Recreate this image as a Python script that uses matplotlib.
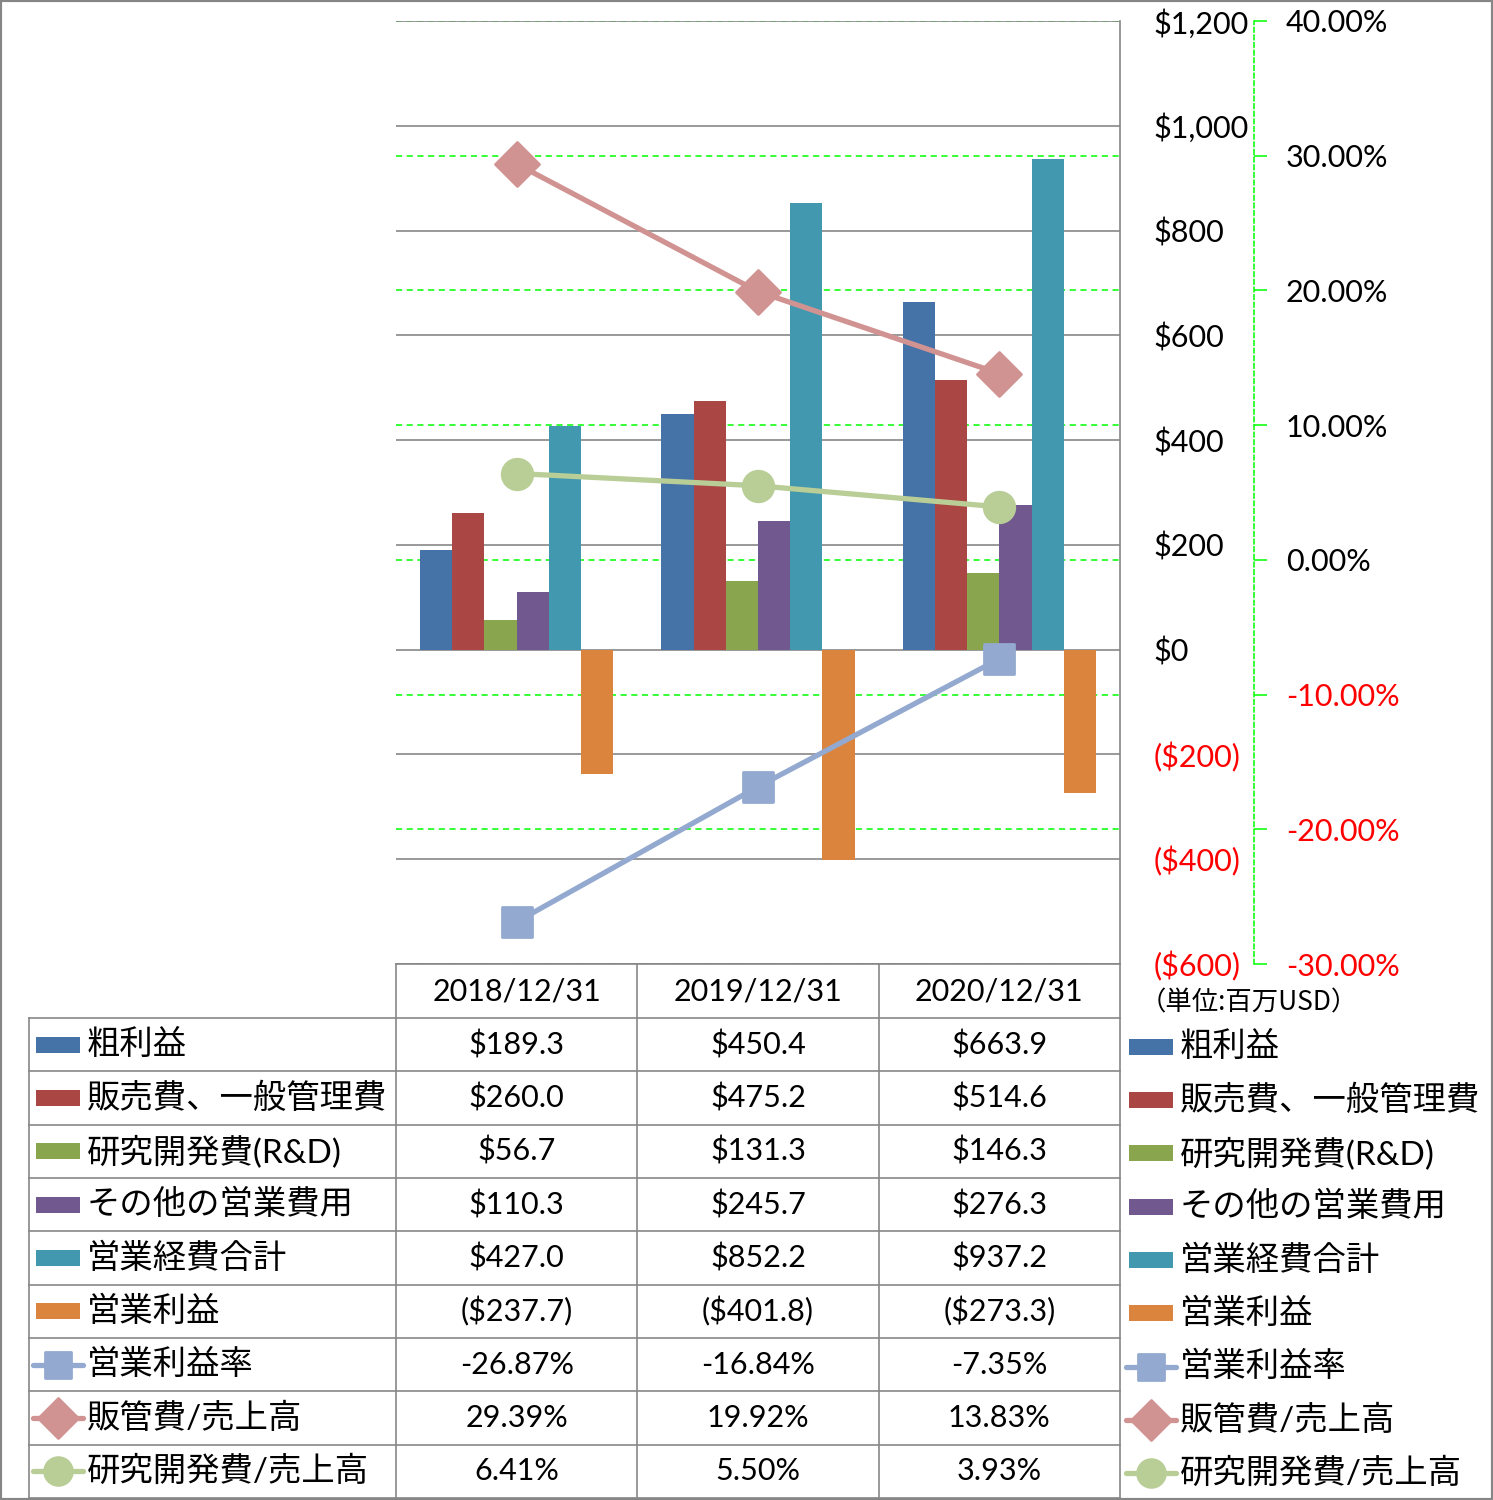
import matplotlib.pyplot as plt
import matplotlib.transforms as mtransforms
from matplotlib.lines import Line2D
from matplotlib.patches import Rectangle
from matplotlib.markers import MarkerStyle
import numpy as np

plt.rcParams['font.family'] = ['Lato', 'Noto Sans CJK JP']

# data (百万USD / %)
categories = ['2018/12/31', '2019/12/31', '2020/12/31']
gross_profit = [189.3, 450.4, 663.9]
sga = [260.0, 475.2, 514.6]
rnd = [56.7, 131.3, 146.3]
other_opex = [110.3, 245.7, 276.3]
total_opex = [427.0, 852.2, 937.2]
op_income = [-237.7, -401.8, -273.3]
op_margin = [-26.87, -16.84, -7.35]
sga_ratio = [29.39, 19.92, 13.83]
rnd_ratio = [6.41, 5.50, 3.93]

bar_names = ['粗利益', '販売費、一般管理費', '研究開発費(R&D)', 'その他の営業費用', '営業経費合計', '営業利益']
bar_colors = ['#4572A7', '#AA4643', '#89A54E', '#71588F', '#4198AF', '#DB843D']
line_names = ['営業利益率', '販管費/売上高', '研究開発費/売上高']
line_colors = ['#93A9CF', '#D19392', '#B9CD96']
line_markers = ['s', 'D', 'o']

usd_ticks = list(range(-600, 1201, 200))
pct_ticks = list(range(-30, 41, 10))

W, H = 1493, 1500
fig = plt.figure(figsize=(W / 100, H / 100), dpi=100)


def fx(px):
    return px / W


def fy(py):
    return 1 - py / H


def usd(v, dec=0):
    s = f'${abs(v):,.{dec}f}'
    return f'({s})' if v < 0 else s


grid_col = '#878787'
green = '#00FF00'

ax = fig.add_axes([fx(396), fy(964), fx(1120) - fx(396), fy(21) - fy(964)])
axg = ax.twinx()
ax2 = ax.twinx()
axg.set_zorder(0)
ax.set_zorder(1)
ax2.set_zorder(2)
ax.patch.set_visible(False)
ax2.patch.set_visible(False)

x = np.arange(len(categories))
w = 1 / 7.5
bar_data = [gross_profit, sga, rnd, other_opex, total_opex, op_income]
for i, (vals, c) in enumerate(zip(bar_data, bar_colors)):
    ax.bar(x + (i - 2.5) * w, vals, w, color=c, linewidth=0, zorder=3)

ax.set_xlim(-0.5, 2.5)
ax.set_ylim(-600, 1200)
ax.set_xticks([])
ax.set_axisbelow(True)
ax.yaxis.grid(True, color=grid_col, lw=1.2)
for s in ['left', 'top', 'bottom']:
    ax.spines[s].set_visible(False)
ax.spines['right'].set_color(grid_col)
ax.spines['right'].set_linewidth(1.2)
ax.yaxis.tick_right()
ax.set_yticks(usd_ticks, [usd(v) for v in usd_ticks])
ax.tick_params(axis='y', length=0, pad=24, labelsize=22)
for lbl, v in zip(ax.get_yticklabels(), usd_ticks):
    lbl.set_color('#FF0000' if v < 0 else 'black')

# secondary grid behind bars
axg.set_ylim(-30, 40)
axg.set_yticks(pct_ticks)
axg.yaxis.grid(True, color=green, lw=1.1, ls=(0, (4, 3)))
axg.tick_params(axis='y', length=0, labelright=False)
for s in axg.spines.values():
    s.set_visible(False)

# ratio lines
ratio_data = [op_margin, sga_ratio, rnd_ratio]
msizes = [21, 22, 22]
for vals, c, m, ms in zip(ratio_data, line_colors, line_markers, msizes):
    ax2.plot(x, vals, color=c, lw=3.8, marker=MarkerStyle(m, joinstyle='round'),
             ms=ms, mec=c, mew=2, zorder=5)
ax2.set_ylim(-30, 40)
for s in ['left', 'top', 'bottom']:
    ax2.spines[s].set_visible(False)
ax2.spines['right'].set_position(('axes', (1254 - 396) / 724))
ax2.spines['right'].set_color(green)
ax2.spines['right'].set_linestyle((0, (3, 2)))
ax2.spines['right'].set_linewidth(1.1)
ax2.set_yticks(pct_ticks, [f'{v:.2f}%' for v in pct_ticks])
ax2.tick_params(axis='y', length=9, width=1.1, color=green, pad=14, labelsize=22)
for lbl, v in zip(ax2.get_yticklabels(), pct_ticks):
    lbl.set_color('#FF0000' if v < 0 else 'black')

fig.text(fx(1140), fy(1003), '（単位:百万USD）', fontsize=19, va='center', ha='left',
         family='Noto Sans CJK JP')

# data table
tr = mtransforms.blended_transform_factory(ax.transData, fig.transFigure)
row_h = (1498 - 1018) / 9
lw_t = 1.2
fig.add_artist(Line2D([fx(396), fx(1120)], [fy(964), fy(964)], color=grid_col, lw=lw_t))
for k in range(10):
    yy = fy(1018 + k * row_h)
    fig.add_artist(Line2D([fx(29), fx(1120)], [yy, yy], color=grid_col, lw=lw_t))
fig.add_artist(Line2D([fx(29), fx(29)], [fy(1018), fy(1498)], color=grid_col, lw=lw_t))
for xv in [-0.5, 0.5, 1.5, 2.5]:
    fig.add_artist(Line2D([xv, xv], [fy(964), fy(1498)], color=grid_col, lw=lw_t,
                          transform=tr))

for i, cat in enumerate(categories):
    fig.text(i, fy(991), cat, transform=tr, ha='center', va='center', fontsize=22)

row_texts = [[usd(v, 1) for v in vals] for vals in bar_data]
row_texts += [[f'{v:.2f}%' for v in vals] for vals in ratio_data]
row_names = bar_names + line_names

for k, (name, texts) in enumerate(zip(row_names, row_texts)):
    yc = 1018 + (k + 0.5) * row_h
    for i, t in enumerate(texts):
        fig.text(i, fy(yc), t, transform=tr, ha='center', va='center', fontsize=22)
    for hx, tx, dy in [(36, 87, 0), (1129, 1180, 2)]:
        yy = yc + dy
        fig.text(fx(tx), fy(yy), name, ha='left', va='center', fontsize=24)
        if k < 6:
            fig.add_artist(Rectangle((fx(hx), fy(yy + 8)), fx(44), 16 / H,
                                     color=bar_colors[k], lw=0))
        else:
            j = k - 6
            fig.add_artist(Line2D([fx(hx - 3), fx(hx + 47)], [fy(yy), fy(yy)],
                                  color=line_colors[j], lw=3.8,
                                  solid_capstyle='round'))
            fig.add_artist(Line2D([fx(hx + 22)], [fy(yy)], color=line_colors[j],
                                  marker=MarkerStyle(line_markers[j], joinstyle='round'),
                                  ms=msizes[j] - 2, mec=line_colors[j], mew=2))

fig.add_artist(Rectangle((0, 0), 1, 1, transform=fig.transFigure, fill=False,
                         ec='#868686', lw=3))

fig.savefig('out.png', dpi=100, facecolor='white')
